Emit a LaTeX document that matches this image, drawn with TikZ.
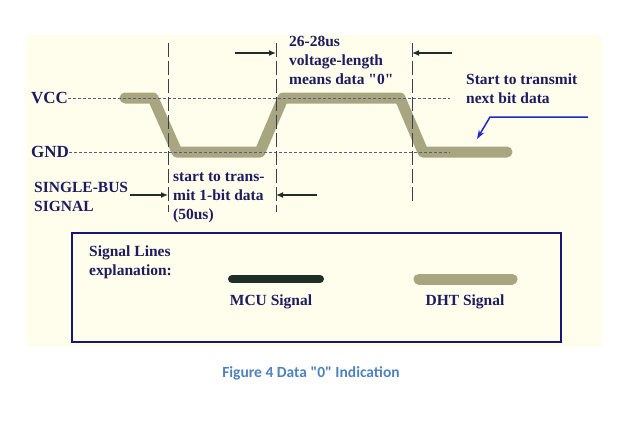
\documentclass[tikz,border=0pt]{standalone}
\usepackage{fontspec}
\setmainfont[Ligatures=TeXOff]{Liberation Serif}
\newfontfamily\capfont{Carlito}
\usetikzlibrary{arrows.meta}

\definecolor{paper}{RGB}{255,253,235}
\definecolor{dhtcol}{RGB}{168,166,128}
\definecolor{mcucol}{RGB}{32,46,40}
\definecolor{inkcol}{RGB}{28,28,95}
\definecolor{boxcol}{RGB}{22,22,120}
\definecolor{hintcol}{RGB}{30,40,200}
\definecolor{capcol}{RGB}{79,129,189}

\tikzset{
    lbl/.style={font=\fontsize{15.5}{19}\selectfont\bfseries, text=inkcol, inner sep=0pt, align=left},
    level/.style={font=\fontsize{17}{20}\selectfont\bfseries, text=inkcol, inner sep=0pt},
    dotline/.style={draw={rgb,255:red,90;green,90;blue,130}, line width=0.8pt, dash pattern=on 3pt off 2pt},
    vline/.style={draw={rgb,255:red,60;green,60;blue,80}, line width=1pt, dash pattern=on 14pt off 4pt},
    dhtline/.style={draw=dhtcol, line width=11pt, line cap=round, line join=round},
    mculine/.style={draw=mcucol, line width=8pt, line cap=round},
    tick/.style={draw=mcucol, line width=2.4pt, -{Latex[length=7pt,width=6pt]}},
    hint/.style={draw=hintcol, line width=1.5pt, -{Stealth[length=9pt,width=6pt]}},
}

\begin{document}
\begin{tikzpicture}[x=1pt, y=-1pt]
    \useasboundingbox (0,0) rectangle (633,423);
    % 底色
    \fill[paper] (26,35) rectangle (602,347);

    % DHT 信号波形
    \draw[dhtline] (125,98) -- (153,98) -- (177,152) -- (260,152) -- (283,98)
        -- (400,98) -- (423,152) -- (507,152);

    % 电平标注 VCC 和 GND
    \node[level, anchor=west] (vcc) at (31,98) {VCC};
    \node[level, anchor=west] (gnd) at (31,152) {GND};
    \coordinate (vccend) at (450,98);
    \coordinate (gndend) at (450,152);
    \draw[dotline] (vcc.east) -- (vccend);
    \draw[dotline] (gnd.east) -- (gndend);

    % 三条竖直虚线
    \coordinate (t1) at (168,43);
    \coordinate (b1) at (168,212);
    \coordinate (t2) at (276,43);
    \coordinate (b2) at (276,212);
    \coordinate (t3) at (412,43);
    \coordinate (b3) at (412,205);
    \draw[vline] (t1) -- (b1);
    \draw[vline] (t2) -- (b2);
    \draw[vline] (t3) -- (b3);

    % 上方的时间箭头
    \coordinate (ua) at (235,53);
    \coordinate (ub) at (276,53);
    \coordinate (uc) at (452,53);
    \coordinate (ud) at (412,53);
    \draw[tick] (ua) -- (ub);
    \draw[tick] (uc) -- (ud);

    % 下方的时间箭头
    \coordinate (la) at (130,195);
    \coordinate (lb) at (168,195);
    \coordinate (lc) at (317,195);
    \coordinate (ld) at (276,195);
    \draw[tick] (la) -- (lb);
    \draw[tick] (lc) -- (ld);

    % 文字说明
    \node[lbl, anchor=west] (zero) at (289,60) {26-28us\\voltage-length\\means data "0"};
    \node[lbl, anchor=west] (next) at (466,89) {Start to transmit\\next bit data};
    \node[lbl, anchor=west] (start) at (173,198) {start to trans-\\mit 1-bit data\\(50us)};
    \node[lbl, anchor=west] (bus) at (34,197) {SINGLE-BUS\\SIGNAL};

    % 蓝色提示箭头
    \coordinate (h1) at (588,117);
    \coordinate (h2) at (490,117);
    \coordinate (h3) at (477,139);
    \draw[hint] (h1) -- (h2) -- (h3);

    % 图例框
    \draw[boxcol, line width=2.5pt] (72,233) rectangle (561,342);
    \node[lbl, anchor=west] (legend) at (89,262) {Signal Lines\\explanation:};
    \coordinate (m1) at (232,279);
    \coordinate (m2) at (320,279);
    \draw[mculine] (m1) -- (m2);
    \node[lbl] (mcu) at (271,302) {MCU Signal};
    \coordinate (d1) at (419,279);
    \coordinate (d2) at (512,279);
    \draw[dhtline] (d1) -- (d2);
    \node[lbl] (dht) at (465,302) {DHT Signal};

    % 图题
    \node[font=\capfont\fontsize{15.5}{18}\selectfont\bfseries, text=capcol, inner sep=0pt] (caption) at (311,373) {Figure 4 Data "0" Indication};
\end{tikzpicture}
\end{document}
